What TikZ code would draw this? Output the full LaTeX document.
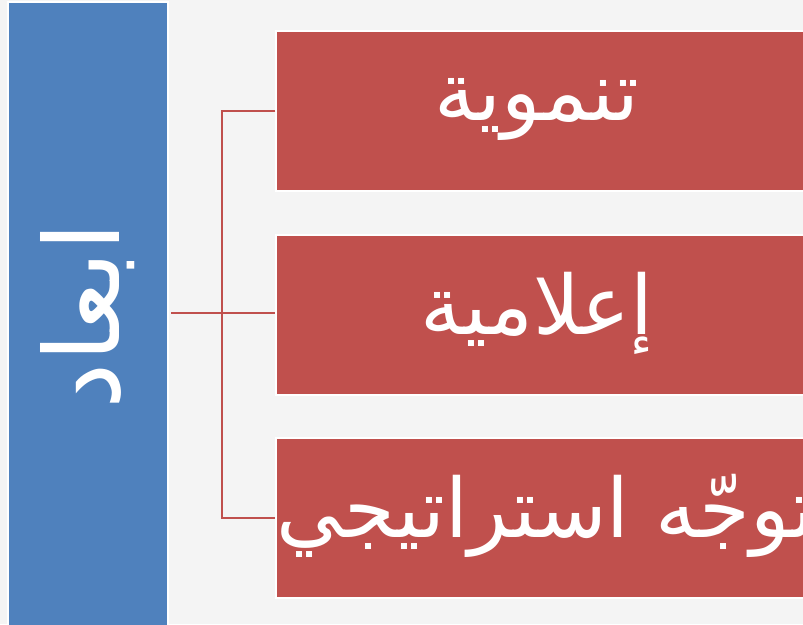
\documentclass[tikz,border=0pt]{standalone}
\usepackage{fontspec}
\usepackage{graphicx}
\newfontfamily\arabicfont[Script=Arabic]{DejaVu Sans}
\TeXXeTstate=1
\definecolor{bgray}{HTML}{F4F4F4}
\definecolor{dimblue}{HTML}{4F81BD}
\definecolor{dimred}{HTML}{C0504D}

\begin{document}
\begin{tikzpicture}[x=1pt,y=1pt,
  dimnode/.style={fill=dimblue,draw=white,line width=2pt,minimum width=160pt,minimum height=628pt,inner sep=0pt},
  itemnode/.style={fill=dimred,draw=white,line width=1.5pt,minimum width=560pt,minimum height=160pt,inner sep=0pt},
  itemtext/.style={text=white,font=\arabicfont\fontsize{82}{94}\selectfont,inner sep=0pt},
  link/.style={draw=dimred,line width=2pt}]
\useasboundingbox (0,0) rectangle (803,624);
\clip (0,0) rectangle (803,624);
\fill[bgray] (0,0) rectangle (803,624);
\node[dimnode] (dim) at (88,308) {\rotatebox{90}{\color{white}\arabicfont\fontsize{104}{114}\selectfont\beginR ابعاد\endR}};
\node[itemnode] (b1) at (556,513) {};
\node[itemnode] (b2) at (556,309) {};
\node[itemnode] (b3) at (556,106) {};
\node[itemtext] (t1) at (537,515) {\beginR تنموية\endR};
\node[itemtext] (t2) at (537,311) {\beginR إعلامية\endR};
\node[itemtext] (t3) at (546,108) {\beginR توجّه استراتيجي\endR};
\coordinate (j) at (222,311);
\draw[link] ([xshift=2pt]dim.east |- j) -- (b2.west |- j);
\draw[link] (b1.west) -| (j) |- (b3.west);
\end{tikzpicture}
\end{document}
